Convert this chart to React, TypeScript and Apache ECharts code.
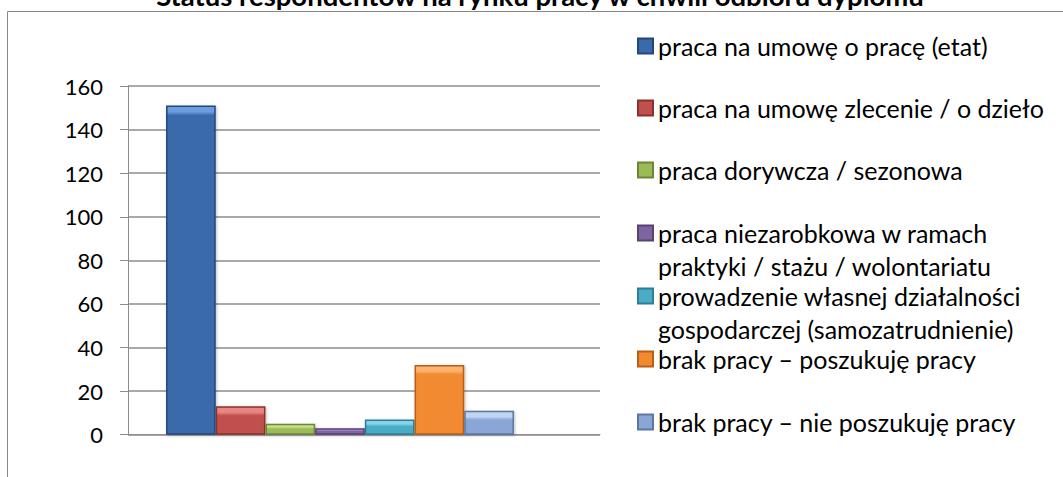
import React, { useEffect, useRef } from "react";
import * as echarts from "echarts";

const chartTitle = "Status respondentów na rynku pracy w chwili odbioru dyplomu";
const categories = [""];
const seriesNames = [
  "praca na umowę o pracę (etat)",
  "praca na umowę zlecenie / o dzieło",
  "praca dorywcza / sezonowa",
  "praca niezarobkowa w ramach\npraktyki / stażu / wolontariatu",
  "prowadzenie własnej działalności\ngospodarczej (samozatrudnienie)",
  "brak pracy – poszukuję pracy",
  "brak pracy – nie poszukuję pracy",
];
const seriesValues = [151, 13, 5, 3, 7, 32, 11];
const yMin = 0;
const yMax = 160;
const yInterval = 20;

const baseColors = ["#3a6aab", "#c0504d", "#9bbb59", "#8064a2", "#4bacc6", "#f28a30", "#8aa6d6"];
const lightColors = ["#6a9ee0", "#e88683", "#c6e08a", "#a88ccb", "#84d3e8", "#fbb36e", "#c2d6f2"];
const edgeColors = ["#24477a", "#8a302d", "#6c8636", "#574270", "#2c7f96", "#b85f17", "#5a76a6"];

const legendCenters = [46, 108, 170, 233, 296, 359, 422];
const FONT = "Lato";
const PLOT_HEIGHT = 348.7;

function fill(i: number, value: number) {
  const px = (value / yMax) * PLOT_HEIGHT;
  const f = Math.min(0.45, 9 / Math.max(px, 1));
  return new echarts.graphic.LinearGradient(0, 0, 0, 1, [
    { offset: 0, color: lightColors[i] },
    { offset: f * 0.6, color: lightColors[i] },
    { offset: f, color: baseColors[i] },
    { offset: 1, color: baseColors[i] },
  ]);
}

export default function App() {
  const ref = useRef<HTMLDivElement>(null);
  useEffect(() => {
    if (!ref.current) return;
    const chart = echarts.init(ref.current, undefined, { renderer: "svg" });
    const legends = seriesNames.map((name, i) => {
      const multi = name.includes("\n");
      return {
        data: [name],
        left: 637,
        top: legendCenters[i] - 16.5,
        padding: 0,
        itemWidth: 15,
        itemHeight: multi ? 48 : 15,
        icon: multi ? "path://M0,0h15v15h-15zM0,48" : "rect",
        selectedMode: false,
        textStyle: { fontFamily: FONT, fontSize: 25, color: "#000", lineHeight: 33 },
      };
    });
    const option: any = {
      animation: false,
      title: {
        text: chartTitle,
        left: 540,
        textAlign: "center",
        top: -19,
        padding: 0,
        textStyle: { fontFamily: FONT, fontSize: 27.5, fontWeight: "bold", color: "#000" },
      },
      graphic: [
        {
          type: "rect",
          shape: { x: 7.5, y: 11.5, width: 1070, height: 500 },
          style: { fill: "none", stroke: "#888", lineWidth: 1 },
          z: -1,
        },
      ],
      legend: legends,
      grid: [
        { left: 128, right: 463, top: 86, bottom: 42.3, containLabel: false },
        { left: 128, right: 511, top: 86, bottom: 42.3, containLabel: false },
      ],
      xAxis: [
        {
          type: "category",
          gridIndex: 0,
          data: categories,
          axisLine: { show: true, lineStyle: { color: "#8c8c8c", width: 1 } },
          axisTick: { show: false },
          axisLabel: { show: false },
        },
        {
          type: "category",
          gridIndex: 1,
          data: categories,
          show: false,
        },
      ],
      yAxis: [
        {
          type: "value",
          gridIndex: 0,
          min: yMin,
          max: yMax,
          interval: yInterval,
          axisLine: { show: true, lineStyle: { color: "#8c8c8c", width: 1 } },
          axisTick: { show: true, length: 8, lineStyle: { color: "#8c8c8c" } },
          splitLine: { show: true, lineStyle: { color: "#8c8c8c", width: 1.5 } },
          axisLabel: { fontFamily: FONT, fontSize: 22, color: "#000", margin: 25 },
        },
        {
          type: "value",
          gridIndex: 1,
          min: yMin,
          max: yMax,
          interval: yInterval,
          show: false,
          splitLine: { show: false },
        },
      ],
      series: seriesNames.map((name, i) => ({
        type: "bar",
        name,
        xAxisIndex: 1,
        yAxisIndex: 1,
        data: [
          {
            value: seriesValues[i],
            itemStyle: { color: fill(i, seriesValues[i]) },
          },
        ],
        barWidth: 49.7,
        barGap: "0%",
        itemStyle: {
          color: baseColors[i],
          borderColor: edgeColors[i],
          borderWidth: 1.5,
          shadowColor: "rgba(0,0,0,0.25)",
          shadowBlur: 3,
          shadowOffsetX: 1,
          shadowOffsetY: 1,
        },
      })),
    };
    chart.setOption(option);
    return () => chart.dispose();
  }, []);
  return (
    <div
      ref={ref}
      style={{ position: "absolute", left: 0, top: 0, width: 1063, height: 477, background: "#fff" }}
    />
  );
}
